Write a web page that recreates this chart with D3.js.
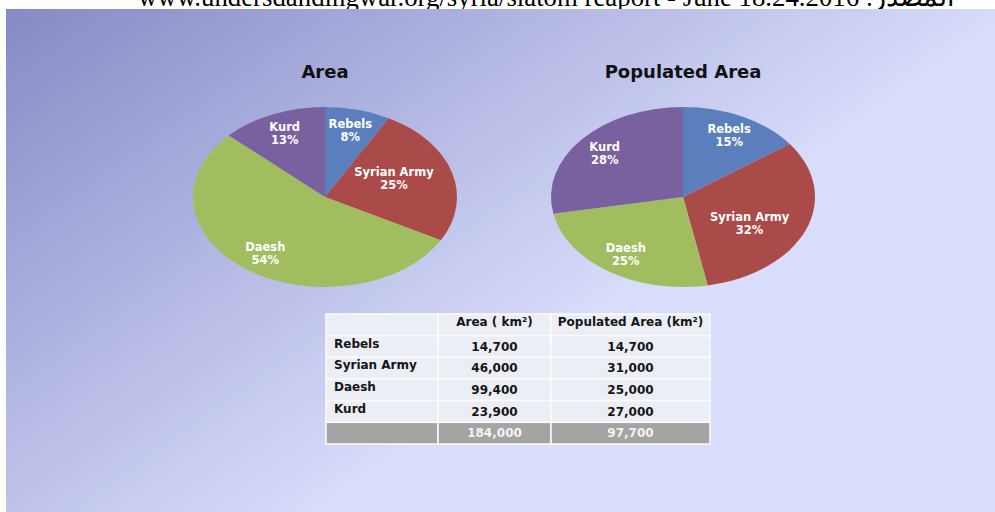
<!DOCTYPE html>
<html>
<head>
<meta charset="utf-8">
<script src="https://cdn.jsdelivr.net/npm/d3@7"></script>
<style>
  html, body { margin: 0; padding: 0; background: #fff; }
  svg { display: block; }
  text { font-family: "DejaVu Sans", Verdana, sans-serif; }
</style>
</head>
<body>
<svg id="canvas" width="995" height="512"></svg>
<script>
// data
const groups = ["Rebels", "Syrian Army", "Daesh", "Kurd"];
const areaKm2 = [14700, 46000, 99400, 23900];
const populatedKm2 = [14700, 31000, 25000, 27000];
// percentages as printed on the two pies
const areaPct = [8, 25, 54, 13];
const populatedPct = [15, 32, 25, 28];
const pieTitles = ["Area", "Populated Area"];
const tableHeaders = ["", "Area ( km\u00b2)", "Populated Area (km\u00b2)"];
const sourceNote = "www.undersdandingwar.org/syria/siatom reaport - June 18.24.2016 :\u0627\u0644\u0645\u0635\u062f\u0631";

const width = 995, height = 512;
const svg = d3.select("#canvas");

//background gradient of the slide
const defs = svg.append("defs");
const grad = defs.append("linearGradient")
    .attr("id", "bg")
    .attr("gradientUnits", "userSpaceOnUse")
    .attr("x1", 0).attr("y1", 0)
    .attr("x2", 500).attr("y2", 700);
grad.append("stop").attr("offset", 0).attr("stop-color", "#8588c5");
grad.append("stop").attr("offset", 0.7).attr("stop-color", "#d8ddfb");
grad.append("stop").attr("offset", 1).attr("stop-color", "#d8ddfb");

//source line sits behind the slide, only its top half shows
svg.append("text")
    .attr("x", 138)
    .attr("y", 6)
    .style("font-family", "'Liberation Serif', 'Times New Roman', serif")
    .style("font-size", "26.8px")
    .attr("fill", "#000")
    .text(sourceNote);

svg.append("rect")
    .attr("x", 6).attr("y", 9)
    .attr("width", width - 6).attr("height", height - 9)
    .attr("fill", "url(#bg)");

//colors per group
const color = d3.scaleOrdinal()
    .domain(groups)
    .range(["#5a7fbc", "#ab4b49", "#a1bd5f", "#7961a0"]);

const rx = 132, ry = 90;
const pie = d3.pie().sort(null).value(d => d.v).startAngle(0);
const arc = d3.arc().innerRadius(0).outerRadius(rx);
const fmtPct = d => d + "%";

function drawPie(cx, cy, title, values) {
    const data = groups.map((g, i) => ({ g: g, v: values[i] }));
    const g = svg.append("g").attr("transform", `translate(${cx},${cy})`);

    g.append("text")
        .attr("x", 0)
        .attr("y", -ry - 29)
        .attr("text-anchor", "middle")
        .style("font-size", "18px")
        .style("font-weight", "bold")
        .attr("fill", "#111")
        .text(title);

    //circle pie squashed into an ellipse
    g.append("g")
        .attr("transform", `scale(1,${ry / rx})`)
        .selectAll("path")
        .data(pie(data))
        .join("path")
        .attr("d", arc)
        .attr("fill", d => color(d.data.g));

    //labels: put on a ring, then pull in so they stay inside the rim
    const pad = 20;
    pie(data).forEach(d => {
        const mid = (d.startAngle + d.endAngle) / 2;
        let x = Math.sin(mid) * rx * 0.77;
        const y = -Math.cos(mid) * ry * 0.77;
        const t = g.append("text")
            .attr("text-anchor", "middle")
            .attr("fill", "#fff")
            .style("font-size", "11.5px")
            .style("font-weight", "bold");
        t.append("tspan").attr("x", 0).attr("y", y - 2).text(d.data.g);
        t.append("tspan").attr("x", 0).attr("y", y + 11).text(fmtPct(d.data.v));
        const w = t.node().getBBox().width;
        const rim = rx * Math.sqrt(1 - (y / ry) * (y / ry));
        const maxX = rim - pad - w / 2;
        if (Math.abs(x) > maxX) x = Math.sign(x) * maxX;
        t.selectAll("tspan").attr("x", x);
    });
}

drawPie(325, 197, pieTitles[0], areaPct);
drawPie(683, 197, pieTitles[1], populatedPct);

//table
const fmtNum = d3.format(",");
const rows = groups.map((g, i) => [g, fmtNum(areaKm2[i]), fmtNum(populatedKm2[i])]);
const totalRow = ["", fmtNum(d3.sum(areaKm2)), fmtNum(d3.sum(populatedKm2))];
const tableRows = [tableHeaders].concat(rows, [totalRow]);

const colEdges = [326, 438, 551, 710];
const rowY = d3.scaleBand()
    .domain(d3.range(tableRows.length))
    .range([314, 444]);

const table = svg.append("g");
tableRows.forEach((r, ri) => {
    const isTotal = ri === tableRows.length - 1;
    r.forEach((cell, ci) => {
        table.append("rect")
            .attr("x", colEdges[ci])
            .attr("y", rowY(ri))
            .attr("width", colEdges[ci + 1] - colEdges[ci])
            .attr("height", rowY.bandwidth())
            .attr("fill", isTotal ? "#a4a4a4" : "#eceef5")
            .attr("stroke", "#fbfbfd")
            .attr("stroke-width", 1.5);
        const first = ci === 0;
        table.append("text")
            .attr("x", first ? colEdges[0] + 8 : (colEdges[ci] + colEdges[ci + 1]) / 2)
            .attr("y", rowY(ri) + rowY.bandwidth() / 2 + (ri === 0 || first ? 1 : 4))
            .attr("text-anchor", first ? "start" : "middle")
            .attr("fill", isTotal ? "#f4f4f4" : "#151515")
            .style("font-size", "12px")
            .style("font-weight", "bold")
            .text(cell);
    });
});
</script>
</body>
</html>
